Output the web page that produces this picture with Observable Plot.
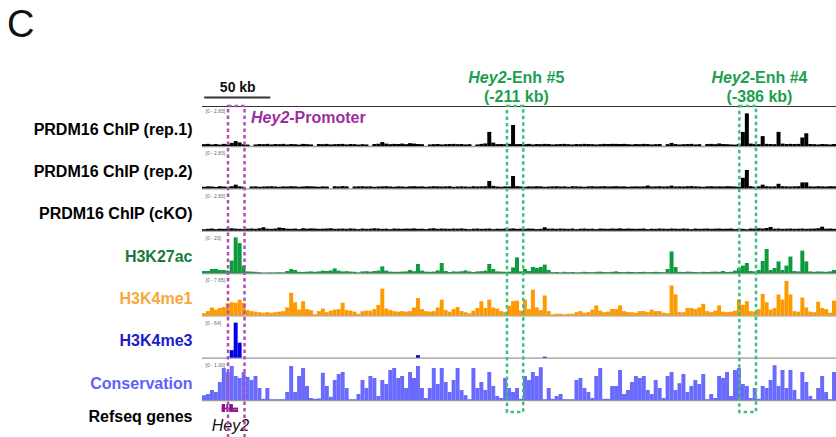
<!DOCTYPE html>
<html><head><meta charset="utf-8">
<script src="https://cdn.jsdelivr.net/npm/d3@7"></script>
<script src="https://cdn.jsdelivr.net/npm/@observablehq/plot@0.6"></script>
<style>
body{margin:0;overflow:hidden;background:#fff}
#wrap{position:relative;width:836px;height:437px}
#panel{position:absolute;left:7px;top:5px;font:400 38px "Liberation Sans",Arial,sans-serif;line-height:1;color:#111}
#chart{position:absolute;left:0;top:0}
</style></head>
<body><div id="wrap"><div id="chart"></div><div id="panel">C</div></div>
<script>
// ---- data ----
const BIN_KB = 3;               // bin width, kb (160 bins = 480 kb window)
const WINDOW_KB = 480;
const trackNames = ["PRDM16 ChIP (rep.1)", "PRDM16 ChIP (rep.2)", "PRDM16 ChIP (cKO)", "H3K27ac", "H3K4me1", "H3K4me3", "Conservation"];
const trackMax = [2.83, 2.83, 2.83, 20, 7.65, 64, 1.00];
const rangeLabels = ["[0 - 2.83]", "[0 - 2.83]", "[0 - 2.83]", "[0 - 20]", "[0 - 7.65]", "[0 - 64]", "[0 - 1.00]"];

const rep1 = [
0.13,0.15,0.11,0.14,0.1,0.15,0.13,0.22,0.35,0.25, 0.13,0.1,0,0.11,0.14,0.13,0.15,0.11,0.14,0.13,
0.15,0.11,0.14,0.13,0.1,0.15,0.13,0.11,0,0.14, 0.13,0.15,0.11,0.13,0.14,0.15,0.11,0.14,0.13,0.1,
0.13,0.11,0,0.14,0.16,0.28,0.17,0.13,0.15,0.14, 0.17,0.13,0.2,0.17,0.14,0.13,0,0.11,0.13,0.14,
0.11,0.13,0.14,0.15,0.13,0.14,0.11,0.13,0,0.11, 0.15,0.18,1.0,0.24,0.13,0.14,0.13,0.15,1.49,0.13,
0.14,0.13,0.15,0.11,0.14,0.13,0.15,0.14,0.11,0.13, 0.14,0.15,0.13,0.11,0.14,0.13,0.15,0.14,0.13,0.11,
0.13,0.15,0.14,0.15,0.15,0.14,0.15,0.13,0.11,0.14, 0.13,0.15,0.14,0.11,0.13,0.14,0,0.13,0.22,0.14,
0.11,0.13,0.14,0.15,0.11,0.13,0,0.14,0.15,0.13, 0.18,0.14,0.13,0.11,0.1,0.15,1.0,2.31,0.17,0.14,
0.13,0.7,0.15,0.14,0.13,1.0,0.17,0.14,0.15,0.14, 0.15,0.6,0.9,0.14,0.13,0.11,0.14,0.13,0.11,0.14];

const rep2 = [
0.11,0.14,0.13,0.1,0.15,0.13,0.11,0.15,0.26,0.14, 0.11,0,0.13,0.14,0.11,0.13,0.14,0.15,0.13,0.11,
0.14,0.13,0.15,0.14,0.11,0.13,0.15,0.14,0.13,0.11, 0.14,0.13,0,0.15,0.13,0.16,0.14,0,0.13,0.14,
0.15,0.13,0.14,0.11,0.13,0.14,0.15,0.13,0.11,0.14, 0.13,0.11,0.14,0.15,0.13,0.14,0.11,0.13,0.15,0.14,
0.13,0.14,0.15,0.11,0.13,0.14,0.13,0.11,0.15,0.13, 0.14,0.15,0.52,0.17,0.13,0.11,0.14,0.13,0.87,0.15,
0.13,0.11,0.14,0.13,0.15,0.14,0.11,0.13,0.14,0.15, 0.13,0.14,0.11,0.15,0.14,0.13,0.11,0.14,0.15,0.13,
0.14,0.15,0.13,0.14,0.15,0.13,0.14,0.11,0.13,0.14, 0.13,0.14,0.2,0.13,0.14,0.15,0.13,0.14,0.19,0.13,
0.14,0.13,0.15,0.16,0.14,0.13,0.11,0.14,0.15,0.13, 0.14,0.13,0.15,0.14,0.13,0.11,0.75,1.3,0.15,0.11,
0.14,0.26,0.15,0.13,0.14,0.32,0.15,0.14,0.13,0.14, 0.15,0.42,0.42,0.14,0.13,0.15,0.14,0.13,0.15,0.14];

const cko = [
0.1,0.13,0.15,0.11,0.14,0.13,0.15,0.17,0.14,0.13, 0.11,0.14,0.15,0.13,0.17,0.24,0.14,0.13,0.15,0.22,
0.19,0.14,0.13,0.15,0.11,0.17,0.14,0.16,0.15,0.13, 0.14,0.15,0.17,0.13,0.14,0.15,0.13,0.16,0.14,0.11,
0.15,0.13,0.14,0.17,0.15,0.13,0.14,0.11,0.15,0.14, 0.13,0.15,0.14,0.16,0.13,0.14,0.11,0.15,0.17,0.13,
0.15,0.14,0.13,0.15,0.14,0.16,0.13,0.11,0.14,0.15, 0.13,0.14,0.15,0.11,0.14,0.13,0.15,0.14,0.16,0.13,
0.14,0.13,0.15,0.14,0.11,0.13,0.24,0.14,0.15,0.13, 0.15,0.14,0.13,0.15,0.11,0.14,0.15,0.13,0.14,0.11,
0.15,0.14,0.13,0.15,0.14,0.16,0.13,0.15,0.14,0.13, 0.14,0.15,0.11,0.14,0.13,0.15,0.14,0.13,0.15,0.14,
0.13,0.15,0.14,0.11,0.15,0.13,0.14,0.15,0.13,0.14, 0.15,0.13,0.14,0.15,0.11,0.14,0.13,0.1,0.15,0.14,
0.17,0.15,0.19,0.26,0.14,0.15,0.13,0.14,0.15,0.13, 0.14,0.15,0.13,0.14,0.15,0.17,0.28,0.14,0.15,0.13];

const h3k27ac = [
1,1,2,2,1.5,1.5,1.2,6.2,17.8,15, 3.7,0.8,0.7,0.6,0.4,0.2,0.3,0.3,0.3,0.4,
0.3,1.0,2.0,1.5,0.6,0.5,0.7,0.8,0.6,0.8, 1.2,1.0,1.3,2.3,1.2,0.8,0.9,0.7,0.6,0.3,
0.8,0.9,0.7,1.0,1.2,3.3,1.2,0.7,0.6,0.6, 0.7,0.8,1.5,0.9,4.5,1.2,0.7,0.6,0.7,1.3,
5.0,1.0,0.5,0.8,0.7,0.9,1.3,0.8,0.5,0.8, 0.9,1.2,4.5,2.0,0.8,0.7,0.6,0.7,2.8,7.8,
0.8,2.0,1.0,3.0,2.5,3.0,4.2,1.5,0.4,0.5, 0.3,0.6,0.4,0.5,0.3,0.4,0.6,0.5,0.4,0.6,
0.7,0.5,0.4,0.6,0.8,0.5,0.4,0.6,0.5,0.4, 0.5,0.6,0.4,0.5,0.6,0.5,0.4,2.0,10.8,3.0,
0.6,0.5,0.7,0.6,0.5,0.4,0.6,0.5,0.6,0.7, 0.6,1.0,0.5,0.6,1.2,2.5,3.7,5.0,1.0,0.8,
1.5,6.0,12.0,1.5,2.5,5.8,1.5,3.7,8.2,1.0, 0.8,11.2,5.8,0.8,0.6,0.8,0.7,0.6,0.8,1.5];

const h3k4me1 = [
0.4,0.8,1.5,1.1,1.4,1.6,2.3,2.5,2.4,3.0, 2.4,1.0,0.8,0.7,0.6,0.5,0.6,0.5,0.6,0.7,
0.8,1.5,4.3,2.5,1.1,2.7,1.2,1.0,0.2,0.8, 1.3,0.6,0.9,1.1,1.2,2.4,1.0,0.9,0.7,0.3,
0.8,0.9,0.9,1.2,2.0,5.1,1.3,1.0,0.8,0.7, 0.8,0.7,0.8,1.5,3.3,1.2,0.8,0.7,0.8,1.5,
3.0,1.0,0.7,1.2,1.6,0.8,0.6,0.4,0.9,1.4, 2.7,1.4,3.0,1.5,1.3,0.8,0.6,1.8,2.7,2.8,
0.9,3.0,1.2,4.9,1.5,1.0,3.8,0.8,0.2,0.3, 0.3,0.2,0.3,0.3,0.6,0.8,0.5,0.6,1.1,1.9,
0.9,0.6,0.7,1.2,1.2,1.9,0.8,0.6,0.6,0.5, 0.8,0.8,0.6,1.1,0.8,0.8,0.5,0.4,5.7,4.0,
0.6,0.6,1.4,1.4,1.2,1.5,2.2,0.8,0.6,0.9, 1.9,0.7,0.6,0.7,0.9,3.0,2.0,2.7,0.8,0.7,
1.2,4.1,2.5,1.1,1.4,4.0,3.0,6.6,4.0,0.8, 0.7,3.4,1.5,0.7,0.6,2.6,1.4,1.2,0.5,2.8];

const h3k4me3 = [
0,0,0,0,0,0,0,12,56,24, 0,0,0,0,0,0,0,0,0,0,
0,0,0,0,0,0,0,0,0,0, 0,0,0,0,0,0,0,0,0,0,
0,0,0,0,0,0,0,0,0,0, 0,0,0,0,4,0,0,0,0,0,
0,0,0,0,0,0,0,0,0,0, 0,0,0,0,0,0,0,0,0,0,
0,0,0,0,0,0,1.5,0,0,0, 0,0,0,0,0,0,0,0,0,0,
0,0,0,0,0,0,0,0,0,0, 0,0,0,0,0,0,0,0,0,0,
0,0,0,0,0,0,0,0,0,0, 0,0,0,0,0,0,0,0,0,0,
0,0,0,0,0,0,0,0,0,0, 0,0,0,0,0,0,0,0,0,0];

const conservation = [
0.12,0.15,0.25,0.2,0.45,0.8,0.7,0.85,0.6,0.55, 0.7,0.58,0.5,0.6,0.3,0.03,0.3,0.02,0.02,0.02,
0.02,0.2,0.85,0.2,0.6,0.8,0.35,0.05,0.03,0.04, 0.68,0.35,0.08,0.5,0.65,0.7,0.3,0.02,0.02,0.15,
0.5,0.3,0.6,0.55,0.1,0.5,0.4,0.75,0.8,0.55, 0.6,0.3,0.7,0.55,0.85,0.3,0.05,0.3,0.8,0.4,
0.8,0.45,0.2,0.5,0.8,0.25,0.12,0.02,0.8,0.3, 0.45,0.25,0.7,0.35,0.1,0.05,0.55,0.3,0.2,0.3,
0.03,0.6,0.5,0.7,0.6,0.82,0.02,0.3,0.03,0.1, 0.15,0.02,0.02,0.02,0.5,0.55,0.3,0.2,0.05,0.6,
0.8,0.03,0.03,0.35,0.35,0.75,0.15,0.25,0.45,0.6, 0.55,0.6,0.25,0.15,0.5,0.3,0.05,0.6,0.7,0.25,
0.42,0.65,0.2,0.35,0.5,0.4,0.65,0.02,0.15,0.05, 0.6,0.55,0.7,0.1,0.75,0.8,0.4,0.35,0.05,0.3,
0.03,0.35,0.3,0.5,0.87,0.35,0.75,0.3,0.75,0.25, 0.02,0.7,0.45,0.1,0.02,0.3,0.6,0.2,0.02,0.7];

// annotated regions (kb from window start)
const promoterName = "Hey2-Promoter";
const promoterStart = 19.7, promoterEnd = 32.2;
const enhNames = ["Hey2-Enh #5", "Hey2-Enh #4"];
const enhDistKb = [-211, -386];
const enhStart = [230.9, 406.8];
const enhEnd = [243.2, 419.4];
const enhLabelAt = [237.6, 421.7];
// Hey2 gene model (kb)
const geneName = "Hey2";
const geneStart = 14.9, geneEnd = 27.3;
const exonStart = [14.9, 18.4, 20.6];
const exonEnd = [17.4, 19.8, 23.4];
const utrStart = [23.4], utrEnd = [27.3];
const scaleBarKb = 50;

// ---- styles / layout ----
const barColors = ["#000", "#000", "#000", "#0b9a3c", "#ff9900", "#0000e8", "#6a6aff"];
const labelColors = ["#000", "#000", "#000", "#1b7a40", "#f8a73a", "#1c1ccc", "#5f5fff"];
const STEP = 254 / 6;            // px between track baselines
const H = 40 / STEP;             // track height in row units
const px = p => p / STEP;        // px -> row units
const FONT = "Liberation Sans, Arial, Helvetica, sans-serif";
const GREEN = "#1a9e50", GREEN_DASH = "#3dbf7d", MAG = "#9c2ea0", MAG_DASH = "#b24fb6", GENE = "#8a158f";

const trackValues = [rep1, rep2, cko, h3k27ac, h3k4me1, h3k4me3, conservation];
const bars = [];
trackValues.forEach((vals, i) => vals.forEach((v, k) => bars.push({track: i, start: k * BIN_KB, end: (k + 1) * BIN_KB, v})));
const idx = trackNames.map((_, i) => i);

const enhancers = enhNames.map((n, i) => ({name: n, dist: `(${enhDistKb[i]} kb)`, start: enhStart[i], end: enhEnd[i], at: enhLabelAt[i]}));
const exons = exonStart.map((s, i) => ({start: s, end: exonEnd[i]}));
const utrs = utrStart.map((s, i) => ({start: s, end: utrEnd[i]}));
const geneY = -6 - px(8);

const plot = Plot.plot({
  width: 836, height: 437,
  marginLeft: 202, marginRight: 0, marginTop: 106, marginBottom: 37,
  x: {domain: [0, WINDOW_KB], axis: null},
  y: {domain: [-6, H], axis: null},
  color: {type: "identity"},
  style: {fontFamily: FONT, background: "white", overflow: "visible"},
  marks: [
    Plot.ruleY(idx, {y: i => -i, stroke: "#999", strokeWidth: 1.3}),
    Plot.ruleY([H], {stroke: "#333", strokeWidth: 1}),
    Plot.rect(bars, {x1: "start", x2: "end", y1: d => -d.track, y2: d => -d.track + H * Math.min(d.v, trackMax[d.track]) / trackMax[d.track], fill: d => barColors[d.track]}),
    Plot.text(idx, {x: 0, y: i => -i + H, dx: 3, dy: 5, text: i => rangeLabels[i], textAnchor: "start", fontSize: 5, fill: "#666"}),
    Plot.text(idx, {x: 0, y: i => -i + H / 2, dx: -10, dy: 3, text: i => trackNames[i], textAnchor: "end", fill: i => labelColors[i], fontWeight: "bold", fontSize: 16}),
    Plot.text(["Refseq genes"], {x: 0, y: -6 - px(16), dx: -10, text: d => d, textAnchor: "end", fill: "#000", fontWeight: "bold", fontSize: 16}),
    // gene model
    Plot.ruleY([geneY], {x1: geneStart, x2: geneEnd, stroke: GENE, strokeWidth: 1.8}),
    Plot.rect(exons, {x1: "start", x2: "end", y1: geneY - px(4), y2: geneY + px(4), fill: GENE}),
    Plot.rect(utrs, {x1: "start", x2: "end", y1: geneY - px(4), y2: geneY - px(1.5), fill: GENE}),
    Plot.text([geneName], {x: (geneStart + geneEnd) / 2, y: -6 - px(25), text: d => d, fontStyle: "italic", fontSize: 16, fill: "#111"}),
    // highlighted regions
    Plot.rect([{start: promoterStart, end: promoterEnd}], {x1: "start", x2: "end", y1: H, y2: -6 - px(60), fill: "none", stroke: MAG_DASH, strokeWidth: 2.5, strokeDasharray: "3.5,3"}),
    Plot.rect(enhancers, {x1: "start", x2: "end", y1: H, y2: -6 - px(12), fill: "none", stroke: GREEN_DASH, strokeWidth: 2.5, strokeDasharray: "3.5,3"}),
    Plot.text([promoterName], {x: promoterEnd, y: H, dx: 6, dy: 11, text: d => d, textAnchor: "start", fill: MAG, fontWeight: "bold", fontSize: 16}),
    Plot.text(enhancers, {x: "at", y: H, dy: -29, text: "name", fill: GREEN, fontWeight: "bold", fontSize: 16}),
    Plot.text(enhancers, {x: "at", y: H, dy: -10, text: "dist", fill: GREEN, fontWeight: "bold", fontSize: 16}),
    // scale bar
    Plot.ruleY([H], {x1: 1.7, x2: 1.7 + scaleBarKb, dy: -9, stroke: "#333", strokeWidth: 2}),
    Plot.text([`${scaleBarKb} kb`], {x: 1.7 + scaleBarKb / 2, y: H, dy: -18.5, text: d => d, fontWeight: "bold", fontSize: 14, fill: "#111"})
  ]
});

// italicise the gene symbol inside region labels
plot.querySelectorAll("text").forEach(t => {
  const s = t.textContent;
  if (s.startsWith("Hey2-")) {
    t.textContent = "";
    const a = document.createElementNS("http://www.w3.org/2000/svg", "tspan");
    a.setAttribute("font-style", "italic");
    a.textContent = "Hey2";
    t.appendChild(a);
    t.appendChild(document.createTextNode(s.slice(4)));
  }
});
document.getElementById("chart").appendChild(plot);
</script>
</body></html>
